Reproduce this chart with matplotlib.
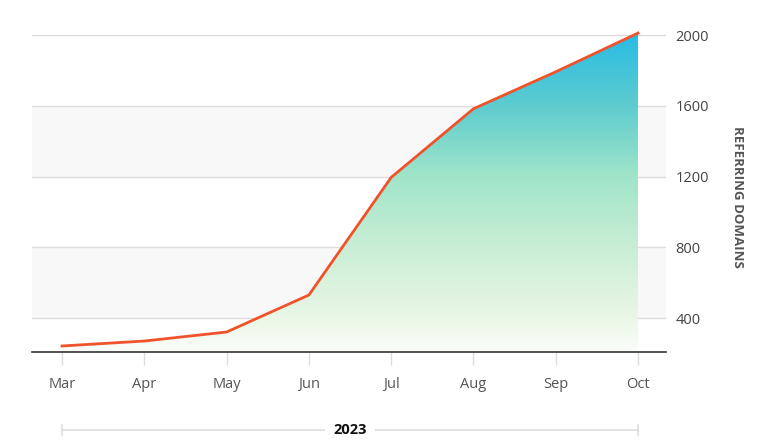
import numpy as np
import matplotlib.pyplot as plt
from matplotlib.colors import LinearSegmentedColormap

plt.rcParams['font.family'] = ['Open Sans', 'DejaVu Sans']

months = ['Mar', 'Apr', 'May', 'Jun', 'Jul', 'Aug', 'Sep', 'Oct']
domains = [242, 270, 321, 530, 1195, 1583, 1792, 2011]
y_ticks = [400, 800, 1200, 1600, 2000]
year = '2023'

y_min, y_max = 208, 2060
x = np.arange(len(months))

fig = plt.figure(figsize=(7.8, 4.48), dpi=100)
ax = fig.add_axes([32 / 780, 96 / 448, 634 / 780, 327.6 / 448])
ax.set_xlim(-0.365, len(months) - 1 + 0.34)
ax.set_ylim(y_min, y_max)

# alternating bands
for lo, hi in [(400, 800), (1200, 1600)]:
    ax.axhspan(lo, hi, color='#f8f8f8', zorder=0, lw=0)
for t in y_ticks:
    ax.axhline(t, color='#dddddd', lw=1, zorder=1)

# gradient fill under the curve
stops = [(208, '#fbfdf9'), (400, '#eaf7e6'), (800, '#c9eed5'),
         (1200, '#a0e5c9'), (1600, '#5ecccf'), (2011, '#28bce3')]
lo_v, hi_v = stops[0][0], stops[-1][0]
cmap = LinearSegmentedColormap.from_list(
    'grad', [((v - lo_v) / (hi_v - lo_v), c) for v, c in stops])
poly = ax.fill_between(x, domains, y_min, color='none', lw=0)
grad = np.linspace(0, 1, 256).reshape(-1, 1)
im = ax.imshow(grad, cmap=cmap, origin='lower', aspect='auto',
               extent=[x[0], x[-1], lo_v, hi_v], zorder=2)
im.set_clip_path(poly.get_paths()[0], transform=ax.transData)

ax.plot(x, domains, color='#f0532b', lw=2, zorder=3, solid_joinstyle='miter')

# axes styling
for s in ['top', 'left', 'right']:
    ax.spines[s].set_visible(False)
ax.spines['bottom'].set_color('#333333')
ax.spines['bottom'].set_linewidth(1.2)
ax.spines['bottom'].set_zorder(4)

ax.set_xticks(x)
ax.set_xticklabels(months)
ax.tick_params(axis='x', length=9, color='#dddddd', width=1,
               labelsize=10.5, labelcolor='#555555', pad=9)

ax.yaxis.tick_right()
ax.set_yticks(y_ticks)
ax.tick_params(axis='y', length=0, labelsize=10.5, labelcolor='#444444', pad=7)
ax.yaxis.set_label_position('right')
ax.set_ylabel('REFERRING DOMAINS', rotation=-90, va='center',
              fontsize=9.5, fontweight='bold', color='#555555')
ax.yaxis.set_label_coords(705 / 634, 155.5 / 327.6)

# year bracket below the axis
tr = ax.get_xaxis_transform()
yb = -78 / 327.6
ax.plot([x[0], x[-1]], [yb, yb], transform=tr, color='#dddddd', lw=1.2,
        clip_on=False)
for xe in (x[0], x[-1]):
    ax.plot([xe, xe], [yb - 5 / 327.6, yb + 5 / 327.6], transform=tr,
            color='#dddddd', lw=1.2, clip_on=False)
ax.text((x[0] + x[-1]) / 2, yb, year, transform=tr, ha='center', va='center',
        fontsize=10.5, fontweight='bold', color='#111111',
        bbox=dict(facecolor='white', edgecolor='none', pad=6))

fig.savefig('out.png', dpi=100)
